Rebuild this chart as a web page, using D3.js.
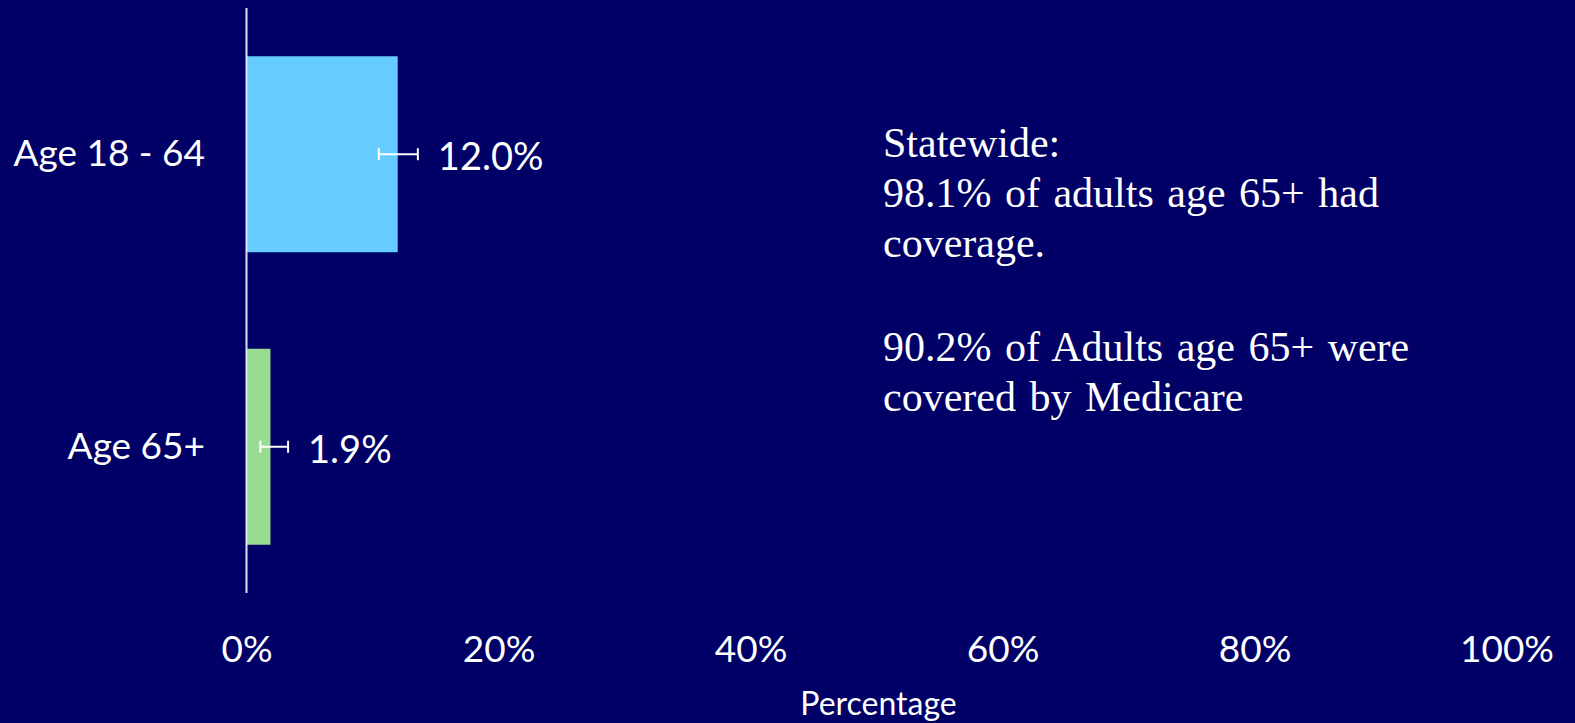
<!DOCTYPE html>
<html>
<head>
<meta charset="utf-8">
<script src="https://cdn.jsdelivr.net/npm/d3@7"></script>
<style>
  html, body { margin: 0; padding: 0; background: #000066; }
  svg { display: block; }
</style>
</head>
<body>
<svg id="chart" width="1575" height="723"></svg>
<script>
// ---- data ----
const categories = ["Age 18 - 64", "Age 65+"];
const values = [12.0, 1.9];
const lowerCI = [10.5, 1.1];
const upperCI = [13.6, 3.3];
const barColors = ["#66CCFF", "#99DB91"];
const tickValues = [0, 20, 40, 60, 80, 100];
const axisTitle = "Percentage";
const noteLines = [
  "Statewide:",
  "98.1% of adults age 65+ had",
  "coverage.",
  "",
  "90.2% of Adults age 65+ were",
  "covered by Medicare"
];

(function () {
// ---- layout ----
const svg = d3.select("#chart");
const pLeft = 246.5, pRight = 1506.5, pTop = 8, pBottom = 593;

const x = d3.scaleLinear().domain([0, 100]).range([pLeft, pRight]);
const y = d3.scaleBand().domain(categories).range([pTop, pBottom])
  .paddingInner(0.33).paddingOuter(0.165);

const rows = categories.map((c, i) => ({
  cat: c, v: values[i], lo: lowerCI[i], hi: upperCI[i], color: barColors[i]
}));

// bars
svg.selectAll("rect.bar").data(rows).enter().append("rect")
  .attr("class", "bar")
  .attr("x", x(0))
  .attr("y", d => y(d.cat))
  .attr("width", d => x(d.v) - x(0))
  .attr("height", y.bandwidth())
  .attr("fill", d => d.color);

// vertical axis line
svg.append("line")
  .attr("x1", x(0)).attr("x2", x(0))
  .attr("y1", pTop).attr("y2", pBottom)
  .attr("stroke", "#e0e0f0").attr("stroke-width", 2);

// error bars
const eb = svg.selectAll("g.eb").data(rows).enter().append("g")
  .attr("class", "eb")
  .attr("transform", d => `translate(0,${y(d.cat) + y.bandwidth() / 2})`);
eb.append("line")
  .attr("x1", d => x(d.lo)).attr("x2", d => x(d.hi))
  .attr("y1", 0).attr("y2", 0)
  .attr("stroke", "#ffffff").attr("stroke-width", 2);
eb.append("line")
  .attr("x1", d => x(d.lo)).attr("x2", d => x(d.lo))
  .attr("y1", -6).attr("y2", 6)
  .attr("stroke", "#ffffff").attr("stroke-width", 2);
eb.append("line")
  .attr("x1", d => x(d.hi)).attr("x2", d => x(d.hi))
  .attr("y1", -6).attr("y2", 6)
  .attr("stroke", "#ffffff").attr("stroke-width", 2);

// value labels
svg.selectAll("text.val").data(rows).enter().append("text")
  .attr("class", "val")
  .attr("x", d => x(d.hi) + 20)
  .attr("y", d => y(d.cat) + y.bandwidth() / 2 + 16)
  .attr("fill", "#ffffff")
  .attr("font-family", "Lato, 'Open Sans', sans-serif")
  .attr("font-size", 38)
  .text(d => d.v.toFixed(1) + "%");

// category labels
svg.selectAll("text.cat").data(rows).enter().append("text")
  .attr("class", "cat")
  .attr("x", 205)
  .attr("y", d => y(d.cat) + y.bandwidth() / 2 + 12)
  .attr("text-anchor", "end")
  .attr("fill", "#ffffff")
  .attr("font-family", "Lato, 'Open Sans', sans-serif")
  .attr("font-size", 37)
  .text(d => d.cat);

// x axis tick labels
const xAxis = d3.axisBottom(x).tickValues(tickValues)
  .tickFormat(d => d + "%").tickSize(0).tickPadding(0);
const gx = svg.append("g").attr("transform", "translate(0,635)").call(xAxis);
gx.select(".domain").remove();
gx.selectAll("text")
  .attr("fill", "#ffffff")
  .attr("font-family", "Lato, 'Open Sans', sans-serif")
  .attr("font-size", 37)
  .attr("dy", "0.72em");

// axis title
svg.append("text")
  .attr("x", x(50) + 2)
  .attr("y", 715)
  .attr("text-anchor", "middle")
  .attr("fill", "#ffffff")
  .attr("font-family", "Lato, 'Open Sans', sans-serif")
  .attr("font-size", 32)
  .text(axisTitle);

// note text
const baselines = [157, 207, 257, 311, 361, 411];
svg.selectAll("text.note").data(noteLines).enter().append("text")
  .attr("class", "note")
  .attr("x", 883)
  .attr("y", (d, i) => baselines[i])
  .attr("fill", "#ffffff")
  .attr("font-family", "'Liberation Serif', 'Times New Roman', serif")
  .attr("font-size", 42)
  .attr("word-spacing", 3)
  .text(d => d);
})();
</script>
</body>
</html>
